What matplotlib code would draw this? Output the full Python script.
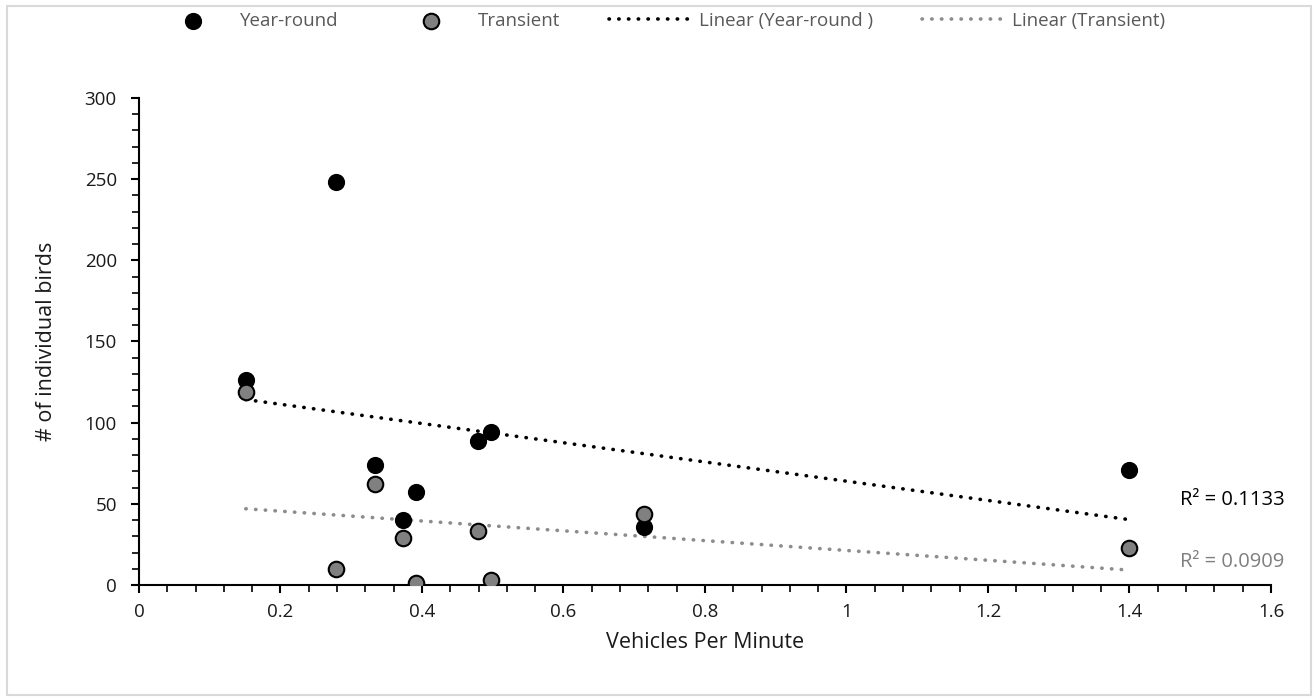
import numpy as np
import matplotlib
matplotlib.use("Agg")
import matplotlib.pyplot as plt
from matplotlib.patches import Rectangle
from matplotlib.ticker import MultipleLocator

plt.rcParams['font.family'] = ['Open Sans', 'DejaVu Sans']

vehicles = [0.151, 0.278, 0.334, 0.373, 0.392, 0.479, 0.498, 0.714, 1.4]
year_round = [126, 248, 74, 40, 57, 89, 94, 36, 71]
transient = [119, 10, 62, 29, 1, 33, 3, 44, 23]
r2_labels = ["R² = 0.1133", "R² = 0.0909"]
series_names = ["Year-round", "Transient", "Linear (Year-round )", "Linear (Transient)"]

fig = plt.figure(figsize=(13.15, 7), dpi=100)
ax = fig.add_axes([0.1057, 0.1643, 0.8608, 0.6957])

x = np.array(vehicles)
xs = np.linspace(x.min(), x.max(), 50)

h1 = ax.scatter(vehicles, year_round, s=125, c='black', edgecolors='black', linewidths=1.2, zorder=3)
h2 = ax.scatter(vehicles, transient, s=125, c='#808080', edgecolors='black', linewidths=1.5, zorder=3)

p1 = np.polyfit(x, year_round, 1)
p2 = np.polyfit(x, transient, 1)
dots = (0, (0.1, 2.6))
l1, = ax.plot(xs, np.polyval(p1, xs), color='black', lw=2.6, linestyle=dots, dash_capstyle='round', zorder=2)
l2, = ax.plot(xs, np.polyval(p2, xs), color='#8c8c8c', lw=2.6, linestyle=dots, dash_capstyle='round', zorder=2)

ax.text(1.471, 52.4, r2_labels[0], color='black', fontsize=14.5, va='center', ha='left', clip_on=False)
ax.text(1.471, 14.2, r2_labels[1], color='#7f7f7f', fontsize=14.5, va='center', ha='left', clip_on=False)

ax.set_xlim(0, 1.6)
ax.set_ylim(0, 300)
ax.xaxis.set_minor_locator(MultipleLocator(0.04))
ax.yaxis.set_major_locator(MultipleLocator(50))
ax.yaxis.set_minor_locator(MultipleLocator(10))
ax.set_xticks(np.arange(0, 1.61, 0.2))
ax.set_xticklabels(['0', '0.2', '0.4', '0.6', '0.8', '1', '1.2', '1.4', '1.6'])

for s in ['top', 'right']:
    ax.spines[s].set_visible(False)
for s in ['left', 'bottom']:
    ax.spines[s].set_linewidth(1.5)
    ax.spines[s].set_color('black')
ax.tick_params(which='major', direction='out', length=6, width=1.5, labelsize=13.5, colors='black', labelcolor='#1a1a1a', pad=7)
ax.tick_params(axis='y', which='major', pad=10)
ax.tick_params(which='minor', direction='out', length=5, width=1.2, colors='black')

ax.set_xlabel("Vehicles Per Minute", fontsize=15.5, color='#1a1a1a', labelpad=8)
ax.set_ylabel("# of individual birds", fontsize=15.5, color='#1a1a1a', labelpad=20)

leg = fig.legend([h1, h2, l1, l2], series_names, loc='center', bbox_to_anchor=(0.5, 0.97),
                 ncol=4, frameon=False, fontsize=13.5, handlelength=4.6, handletextpad=0.2,
                 columnspacing=2.6, scatterpoints=1)
for t in leg.get_texts():
    t.set_color('#595959')

fig.patches.append(Rectangle((7/1315, 5/700), 1304/1315, 689/700, transform=fig.transFigure,
                             fill=False, edgecolor='#d9d9d9', linewidth=1.5))

fig.savefig('out.png', dpi=100)
